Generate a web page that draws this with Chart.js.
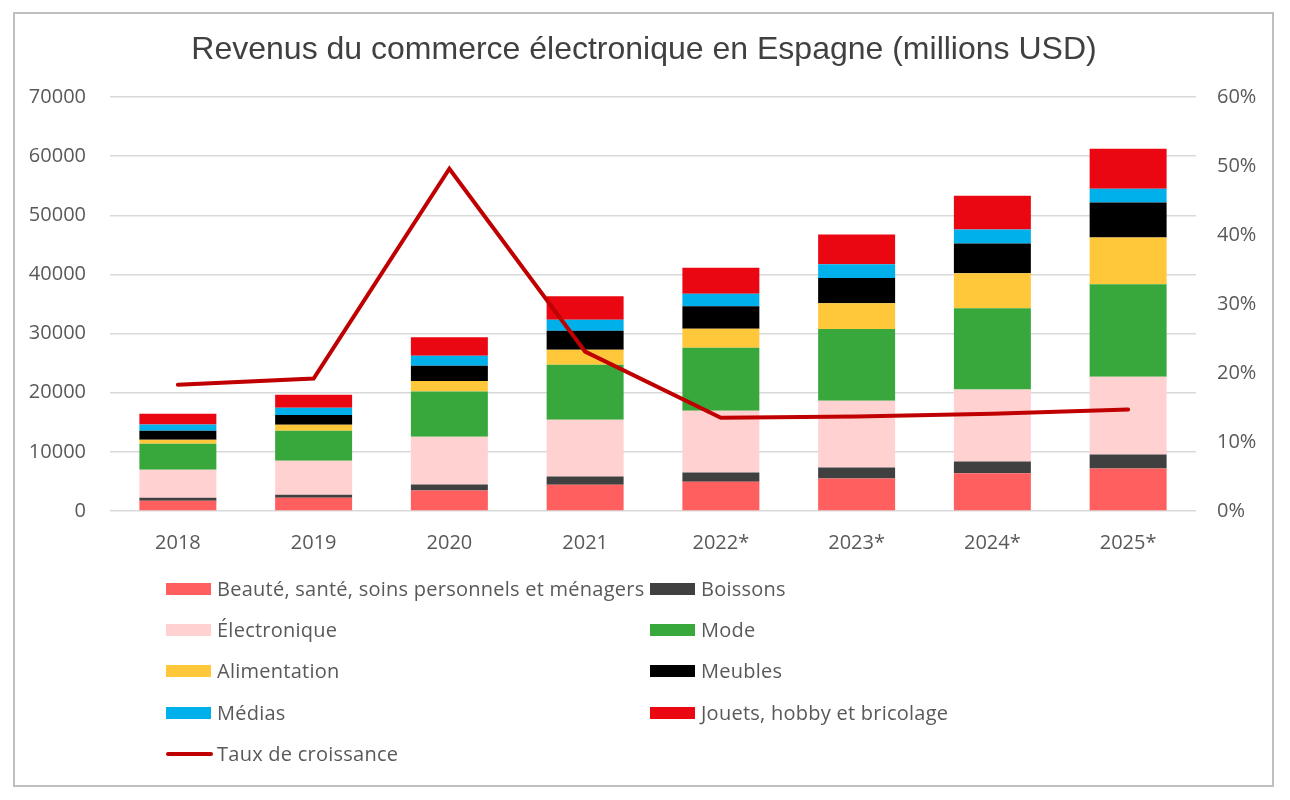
<!DOCTYPE html>
<html>
<head>
<meta charset="utf-8">
<script src="https://cdn.jsdelivr.net/npm/chart.js@4/dist/chart.umd.min.js"></script>
<style>
  html, body { margin: 0; padding: 0; background: #ffffff; }
  #wrap { width: 1290px; height: 800px; position: relative; }
</style>
</head>
<body>
<div id="wrap"><canvas id="c" width="1290" height="800"></canvas></div>
<script>
const years = ['2018', '2019', '2020', '2021', '2022*', '2023*', '2024*', '2025*'];
const beaute = [1750, 2250, 3480, 4450, 4950, 5500, 6400, 7180];
const boissons = [500, 500, 1010, 1400, 1580, 1850, 1960, 2360];
const electronique = [4730, 5750, 8070, 9590, 10430, 11290, 12180, 13140];
const mode = [4400, 5080, 7630, 9300, 10650, 12120, 13760, 15660];
const alimentation = [680, 1010, 1790, 2530, 3220, 4380, 5890, 7910];
const meubles = [1520, 1640, 2580, 3220, 3770, 4260, 5050, 5900];
const medias = [1060, 1240, 1680, 1860, 2140, 2300, 2360, 2350];
const jouets = [1810, 2200, 3140, 3940, 4400, 5060, 5720, 6740];
const croissance = [18.3, 19.2, 49.6, 23.1, 13.5, 13.7, 14.1, 14.7];
const leftTicks = [0, 10000, 20000, 30000, 40000, 50000, 60000, 70000];
const rightTicks = [0, 10, 20, 30, 40, 50, 60];

const TXT = '#595959';
const FONT = '"Open Sans", "Noto Sans", sans-serif';

function bar(label, data, color) {
  return { type: 'bar', label, data, backgroundColor: color, borderWidth: 0,
           yAxisID: 'y', order: 1, barPercentage: 0.567, categoryPercentage: 1.0 };
}

const datasets = [
  bar('Beauté, santé, soins personnels et ménagers', beaute, '#FF5F5F'),
  bar('Boissons', boissons, '#404040'),
  bar('Électronique', electronique, '#FFD1D1'),
  bar('Mode', mode, '#38A83D'),
  bar('Alimentation', alimentation, '#FFC83B'),
  bar('Meubles', meubles, '#000000'),
  bar('Médias', medias, '#00B0EA'),
  bar('Jouets, hobby et bricolage', jouets, '#EA0712'),
  { type: 'line', label: 'Taux de croissance', data: croissance, yAxisID: 'y1', order: 0,
    borderColor: '#C00000', backgroundColor: '#C00000', borderWidth: 4, pointRadius: 0,
    tension: 0, fill: false, borderCapStyle: 'round', borderJoinStyle: 'miter' }
];

const framePlugin = {
  id: 'frame',
  beforeDraw(chart) {
    const ctx = chart.ctx;
    ctx.save();
    ctx.fillStyle = '#ffffff';
    ctx.fillRect(0, 0, chart.width, chart.height);
    ctx.strokeStyle = '#bfbfbf';
    ctx.lineWidth = 2;
    ctx.strokeRect(14, 13, 1259, 773);
    ctx.restore();
  },
  afterDraw(chart) {
    const ctx = chart.ctx;
    ctx.save();
    // title
    ctx.fillStyle = '#404040';
    ctx.font = '32px "Liberation Sans", Arial, sans-serif';
    ctx.textAlign = 'center';
    ctx.textBaseline = 'middle';
    ctx.fillText('Revenus du commerce électronique en Espagne (millions USD)', 644, 50);
    // legend
    const colX = [166, 650];
    const rowY = [589, 630, 671, 713, 754];
    ctx.font = '20px ' + FONT;
    ctx.letterSpacing = '0.25px';
    ctx.textAlign = 'left';
    chart.data.datasets.forEach((ds, i) => {
      const x = colX[i % 2];
      const y = rowY[Math.floor(i / 2)];
      if (ds.type === 'line') {
        ctx.strokeStyle = ds.borderColor;
        ctx.lineWidth = 4;
        ctx.lineCap = 'round';
        ctx.beginPath();
        ctx.moveTo(x + 2, y);
        ctx.lineTo(x + 45, y);
        ctx.stroke();
      } else {
        ctx.fillStyle = ds.backgroundColor;
        ctx.fillRect(x, y - 6, 45, 12);
      }
      ctx.fillStyle = TXT;
      ctx.fillText(ds.label, x + 51, y + 1);
    });
    ctx.restore();
  }
};

new Chart(document.getElementById('c'), {
  data: { labels: years, datasets },
  options: {
    responsive: false,
    animation: false,
    devicePixelRatio: 1,
    layout: { padding: { top: 97, left: 0, right: 0, bottom: 0 } },
    plugins: { legend: { display: false }, title: { display: false }, tooltip: { enabled: false } },
    scales: {
      x: {
        stacked: true,
        grid: { display: false, drawTicks: false },
        border: { display: false },
        ticks: { color: TXT, font: { family: FONT, size: 20 }, padding: 20 },
        afterFit(s) { s.height = 289; }
      },
      y: {
        type: 'linear', position: 'left', stacked: true,
        min: 0, max: 70000,
        afterBuildTicks(s) { s.ticks = leftTicks.map(v => ({ value: v })); },
        grid: { color: '#d9d9d9', lineWidth: 1.5, drawTicks: false },
        border: { display: false },
        ticks: { color: TXT, font: { family: FONT, size: 20 }, padding: 24,
                 callback: v => String(v) },
        afterFit(s) { s.width = 110; }
      },
      y1: {
        type: 'linear', position: 'right', stacked: false,
        min: 0, max: 60,
        afterBuildTicks(s) { s.ticks = rightTicks.map(v => ({ value: v })); },
        grid: { display: false, drawTicks: false },
        border: { display: false },
        ticks: { color: TXT, font: { family: FONT, size: 20 }, padding: 21,
                 callback: v => v + '%' },
        afterFit(s) { s.width = 94; }
      }
    }
  },
  plugins: [framePlugin]
});
</script>
</body>
</html>
